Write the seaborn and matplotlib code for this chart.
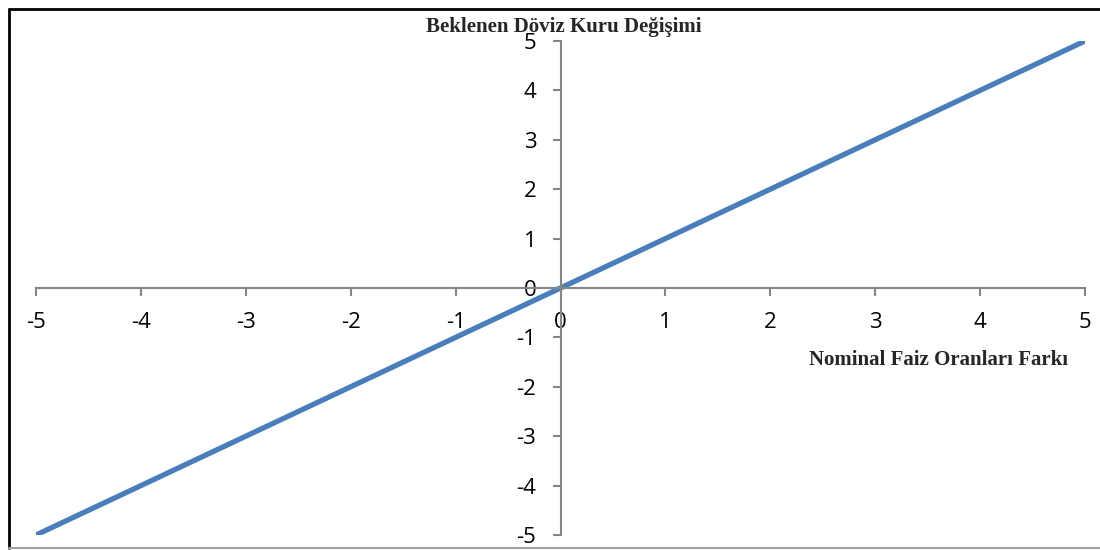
import matplotlib
matplotlib.use("Agg")
import matplotlib.pyplot as plt
import seaborn as sns
import pandas as pd
from matplotlib.lines import Line2D

x_values = [-5, 5]
y_values = [-5, 5]
x_ticks = [-5, -4, -3, -2, -1, 0, 1, 2, 3, 4, 5]
y_ticks = [-5, -4, -3, -2, -1, 0, 1, 2, 3, 4, 5]
y_title = "Beklenen Döviz Kuru Değişimi"
x_title = "Nominal Faiz Oranları Farkı"

sns.set_theme(style="white")
plt.rcParams['font.family'] = ['Open Sans', 'DejaVu Sans']

fig = plt.figure(figsize=(11, 5.5), dpi=100)
ax = fig.add_axes([36/1100, 1-535/550, 1049/1100, 494/550])

df = pd.DataFrame({"x": x_values, "y": y_values})
sns.lineplot(data=df, x="x", y="y", ax=ax, color="#4A7EBB", linewidth=3.8,
             solid_capstyle="butt")

ax.set_xlim(-5, 5)
ax.set_ylim(-5, 5)
ax.set_xticks(x_ticks)
ax.set_yticks(y_ticks)
ax.set_xticklabels([str(t) for t in x_ticks])
ax.set_yticklabels([str(t) for t in y_ticks])
ax.set_xlabel("")
ax.set_ylabel("")

grey = "#868686"
ax.spines['left'].set_position(('data', 0))
ax.spines['bottom'].set_position(('data', 0))
ax.spines['right'].set_visible(False)
ax.spines['top'].set_visible(False)
for s in ('left', 'bottom'):
    ax.spines[s].set_color(grey)
    ax.spines[s].set_linewidth(1.5)

ax.tick_params(axis='x', direction='out', length=5.5, width=1.5, color=grey,
               pad=12, labelsize=16, labelcolor='black', bottom=True)
ax.tick_params(axis='y', direction='out', length=5.5, width=1.5, color=grey,
               pad=12, labelsize=16, labelcolor='black', left=True)

ax.text(0.03, 5.28, y_title, ha='center', va='center', fontsize=15,
        fontweight='bold', family='Liberation Serif', clip_on=False)
ax.text(3.6, -1.46, x_title, ha='center', va='center', fontsize=15,
        fontweight='bold', family='Liberation Serif', clip_on=False)

# outer frame
fig.add_artist(Line2D([9/1100, 1.0], [1-9/550, 1-9/550], color='black', linewidth=2,
                      transform=fig.transFigure))
fig.add_artist(Line2D([9/1100, 9/1100], [1-9/550, 1-548/550], color='black', linewidth=2,
                      transform=fig.transFigure))
fig.add_artist(Line2D([9/1100, 1.0], [1-548/550, 1-548/550], color='#A0A0A0', linewidth=1.5,
                      transform=fig.transFigure))

fig.savefig("out.png", dpi=100)
